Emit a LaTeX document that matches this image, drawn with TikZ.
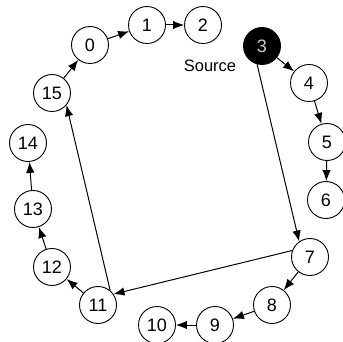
\documentclass[tikz,border=0pt]{standalone}
\usepackage{fontspec}
\setmainfont{Liberation Sans}
\usetikzlibrary{arrows.meta}
\begin{document}
\begin{tikzpicture}[x=1pt,y=-1pt,
  nd/.style={circle,draw,line width=0.9pt,minimum size=37pt,inner sep=0pt,font=\fontsize{18}{18}\selectfont},
  src/.style={nd,fill=black,text=white!80!black},
  arr/.style={line width=1pt,-{Latex[length=11pt,width=8.5pt]}},
  lbl/.style={font=\fontsize{16.5}{16.5}\selectfont}]
\clip (0,0) rectangle (343,342);
\useasboundingbox (0,0) rectangle (343,342);
\node[nd] (n0) at (90,45) {0};
\node[nd] (n1) at (147,25) {1};
\node[nd] (n2) at (203,25) {2};
\node[src] (n3) at (262,46) {3};
\node[nd] (n4) at (309,83) {4};
\node[nd] (n5) at (327,142) {5};
\node[nd] (n6) at (326,200) {6};
\node[nd] (n7) at (310,257) {7};
\node[nd] (n8) at (272,305) {8};
\node[nd] (n9) at (215,325) {9};
\node[nd] (n10) at (157,325) {10};
\node[nd] (n11) at (98,305) {11};
\node[nd] (n12) at (52,267) {12};
\node[nd] (n13) at (33,209) {13};
\node[nd] (n14) at (28,143) {14};
\node[nd] (n15) at (52,93) {15};
\node[lbl] (source) at (210,66) {Source};
\draw[arr] (n15) -- (n0);
\draw[arr] (n0) -- (n1);
\draw[arr] (n1) -- (n2);
\draw[arr] (n3) -- (n4);
\draw[arr] (n4) -- (n5);
\draw[arr] (n5) -- (n6);
\draw[arr] (n7) -- (n8);
\draw[arr] (n8) -- (n9);
\draw[arr] (n9) -- (n10);
\draw[arr] (n11) -- (n12);
\draw[arr] (n12) -- (n13);
\draw[arr] (n13) -- (n14);
\draw[arr] (n3.-105) -- (n7.125);
\draw[arr] (n7.160) -- (n11.35);
\draw[arr] (n11.50) -- (n15.-40);
\end{tikzpicture}
\end{document}
